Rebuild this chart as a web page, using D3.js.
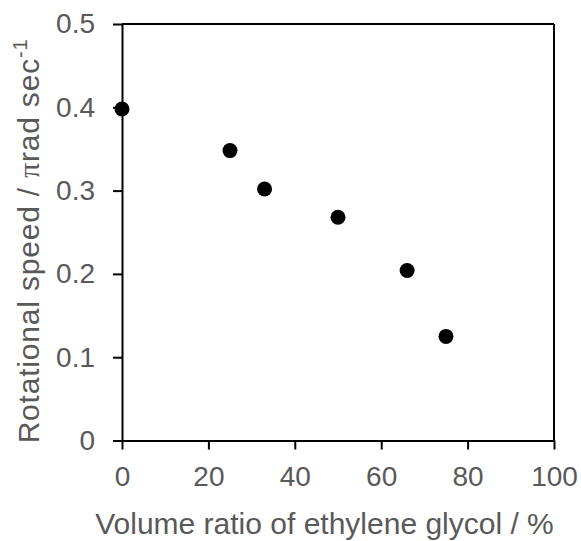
<!DOCTYPE html>
<html><head><meta charset="utf-8">
<script src="https://cdn.jsdelivr.net/npm/d3@7"></script>
<style>body{margin:0;background:#fff}svg{display:block}</style>
</head><body>
<svg id="c" width="581" height="541"></svg>
<script>
const xValues = [0, 25, 33, 50, 66, 75];
const yValues = [0.398, 0.348, 0.302, 0.268, 0.204, 0.125];
const xTicks = [0, 20, 40, 60, 80, 100];
const yTicks = [0, 0.1, 0.2, 0.3, 0.4, 0.5];
const xTickLabels = ["0", "20", "40", "60", "80", "100"];
const yTickLabels = ["0", "0.1", "0.2", "0.3", "0.4", "0.5"];
const xTitle = "Volume ratio of ethylene glycol / %";

const svg = d3.select("#c");
const L = 122, R = 554, T = 24, B = 440.5;
const x = d3.scaleLinear().domain([0, 100]).range([L, R]);
const y = d3.scaleLinear().domain([0, 0.5]).range([B, T]);
const font = "Arial, 'Liberation Sans', sans-serif";
const grey = "#595959";

const xa = svg.append("g").attr("transform", `translate(0,${B})`)
  .call(d3.axisBottom(x).tickValues(xTicks).tickFormat((d,i)=>xTickLabels[i]).tickSize(9).tickPadding(17).tickSizeOuter(0));
const ya = svg.append("g").attr("transform", `translate(${L},0)`)
  .call(d3.axisLeft(y).tickValues(yTicks).tickFormat((d,i)=>yTickLabels[i]).tickSize(9).tickPadding(18).tickSizeOuter(0));
[xa, ya].forEach(g => {
  g.select(".domain").attr("stroke", "#000").attr("stroke-width", 2);
  g.selectAll(".tick line").attr("stroke", "#000").attr("stroke-width", 2);
  g.selectAll(".tick text").attr("fill", grey).style("font-family", font).style("font-size", "28px");
});
// right & top frame
svg.append("line").attr("x1", x(100)).attr("x2", x(100)).attr("y1", y(0)).attr("y2", y(0.5))
  .attr("stroke", "#000").attr("stroke-width", 2);
svg.append("line").attr("x1", x(0)).attr("x2", x(100)).attr("y1", y(0.5)).attr("y2", y(0.5))
  .attr("stroke", "#000").attr("stroke-width", 2);

svg.append("g").selectAll("circle").data(xValues).join("circle")
  .attr("cx", (d) => x(d)).attr("cy", (d, i) => y(yValues[i])).attr("r", 7.5).attr("fill", "#000");

svg.append("text").attr("x", 324.5).attr("y", 534).attr("text-anchor", "middle")
  .attr("fill", grey).style("font-family", font).style("font-size", "30px").text(xTitle);

const yt = svg.append("text").attr("transform", `translate(39,${241}) rotate(-90)`)
  .attr("text-anchor", "middle").attr("fill", grey).style("font-family", font).style("font-size", "30px")
  .style("letter-spacing", "0.8px");
yt.append("tspan").text("Rotational speed / ");
yt.append("tspan").style("font-family", "'Liberation Serif', 'Times New Roman', serif").text("π");
yt.append("tspan").text("rad sec");
yt.append("tspan").attr("dy", -12).style("font-size", "20px").text("-1");
</script>
</body></html>
